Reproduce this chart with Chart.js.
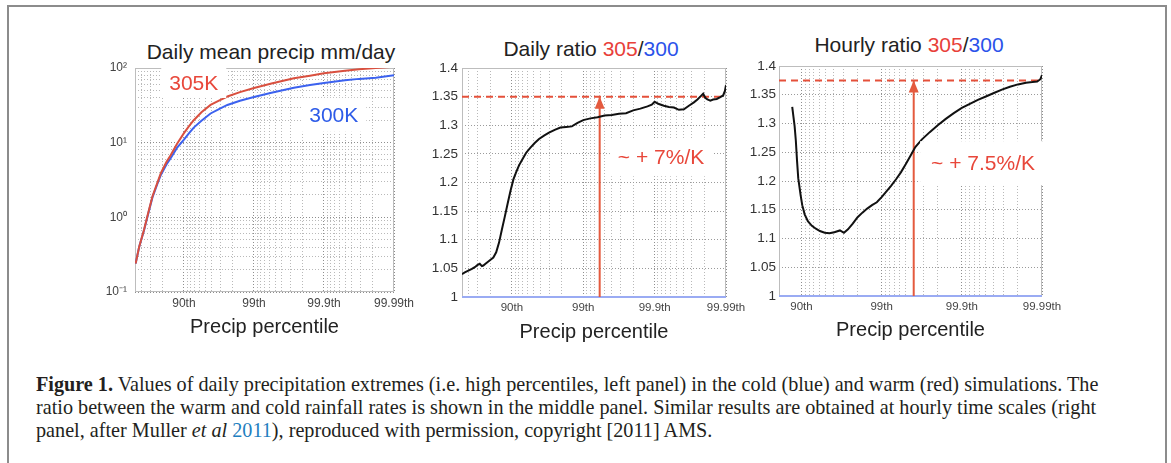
<!DOCTYPE html>
<html><head><meta charset="utf-8">
<script src="https://cdn.jsdelivr.net/npm/chart.js@4.4.0/dist/chart.umd.min.js"></script>
<style>
html,body{margin:0;padding:0;background:#fff;width:1171px;height:463px;overflow:hidden;position:relative;}
#frame{position:absolute;left:7px;top:5px;width:1160px;height:540px;box-sizing:border-box;border:2px solid #8c8c8c;}
canvas{position:absolute;}
.ttl{position:absolute;transform:translate(-50%,-50%);font-family:"Liberation Sans",Arial,sans-serif;font-size:21px;color:#222;white-space:nowrap;}
.r{color:#e8403a;} .b{color:#2b52ea;}
.cap{position:absolute;left:36px;top:373px;font-family:"Liberation Serif","Times New Roman",serif;font-size:20.2px;line-height:23px;color:#231f20;white-space:nowrap;}
.cap a{color:#1f7fc0;text-decoration:none;}
</style></head>
<body>
<div id="frame"></div>
<div class="ttl" style="left:271px;top:52px;">Daily mean precip mm/day</div>
<div class="ttl" style="left:591px;top:49px;">Daily ratio <span class="r">305</span>/<span class="b">300</span></div>
<div class="ttl" style="left:909px;top:45px;">Hourly ratio <span class="r">305</span>/<span class="b">300</span></div>
<canvas id="cLeft" width="360" height="299" style="left:60px;top:40px;"></canvas>
<canvas id="cMid" width="332" height="304" style="left:420px;top:40px;"></canvas>
<canvas id="cRight" width="333" height="302" style="left:735px;top:40px;"></canvas>
<div class="cap"><b>Figure 1.</b> Values of daily precipitation extremes (i.e. high percentiles, left panel) in the cold (blue) and warm (red) simulations. The<br>ratio between the warm and cold rainfall rates is shown in the middle panel. Similar results are obtained at hourly time scales (right<br>panel, after Muller <i>et al</i> <a>2011</a>), reproduced with permission, copyright [2011] AMS.</div>
<script>
// x position on every panel: -log10(1 - percentile/100)
const pctTickLabels = ['90th', '99th', '99.9th', '99.99th'];
const pctTickPos = [1, 2, 3, 4];

// Left panel: daily mean precip (mm/day)
const leftX   = [0.31, 0.36, 0.43, 0.50, 0.55, 0.62, 0.67, 0.75, 0.81, 0.90, 1.00, 1.07, 1.14, 1.25, 1.38, 1.50, 1.62, 1.80, 2.00, 2.25, 2.57, 2.80, 3.00, 3.30, 3.50, 3.74, 4.00];
const warm305 = [0.24, 0.40, 0.68, 1.25, 1.9, 2.9, 3.9, 5.5, 6.8, 9.6, 13.4, 16.5, 20, 25.5, 32, 36.5, 41.5, 47.5, 54, 62, 73, 79, 85, 92, 96, 100, 104];
const cold300 = [0.24, 0.40, 0.67, 1.22, 1.85, 2.8, 3.7, 5.1, 6.2, 8.5, 11.0, 13.3, 15.9, 19.7, 24.6, 28.2, 32, 36.5, 41, 46.5, 54.5, 59, 63, 68.5, 71.5, 74, 80];
const precipTickVals = [0.1, 1, 10, 100];
const precipTickLabels = ['10\u207B\u00B9', '10\u2070', '10\u00B9', '10\u00B2'];

// Middle panel: daily ratio 305/300
const dailyX = [0.30,0.34,0.39,0.44,0.48,0.52,0.55,0.58,0.60,0.63,0.67,0.71,0.74,0.78,0.82,0.86,0.90,0.94,0.98,1.02,1.06,1.10,1.15,1.20,1.26,1.32,1.38,1.45,1.52,1.60,1.68,1.76,1.84,1.92,2.00,2.10,2.20,2.30,2.40,2.50,2.60,2.70,2.80,2.90,2.96,3.00,3.06,3.13,3.20,3.27,3.34,3.41,3.48,3.55,3.60,3.64,3.68,3.71,3.74,3.78,3.82,3.87,3.92,3.96,3.985,4.0];
const dailyRatio = [1.040,1.043,1.046,1.049,1.052,1.056,1.058,1.054,1.055,1.058,1.062,1.066,1.069,1.078,1.095,1.118,1.140,1.163,1.185,1.205,1.218,1.230,1.241,1.252,1.261,1.269,1.276,1.282,1.287,1.292,1.296,1.297,1.298,1.304,1.309,1.312,1.314,1.317,1.318,1.320,1.321,1.326,1.329,1.333,1.336,1.341,1.337,1.334,1.332,1.331,1.327,1.328,1.334,1.340,1.345,1.350,1.355,1.348,1.345,1.343,1.345,1.346,1.349,1.352,1.360,1.370];

// Right panel: hourly ratio 305/300
const hourlyX = [0.885,0.90,0.915,0.93,0.945,0.96,0.975,0.99,1.01,1.04,1.08,1.13,1.18,1.23,1.29,1.35,1.41,1.48,1.53,1.58,1.64,1.70,1.76,1.82,1.88,1.94,2.00,2.06,2.12,2.18,2.24,2.30,2.36,2.42,2.50,2.60,2.70,2.80,2.90,3.00,3.10,3.20,3.30,3.40,3.50,3.60,3.70,3.80,3.88,3.94,3.98,4.00];
const hourlyRatio = [1.329,1.312,1.295,1.27,1.235,1.205,1.19,1.175,1.158,1.142,1.13,1.122,1.117,1.113,1.110,1.109,1.111,1.114,1.110,1.116,1.126,1.137,1.145,1.152,1.158,1.163,1.172,1.182,1.192,1.203,1.215,1.229,1.244,1.259,1.272,1.285,1.297,1.308,1.318,1.327,1.334,1.341,1.347,1.353,1.359,1.364,1.368,1.371,1.372,1.373,1.377,1.384];

const ratioTickVals = [1, 1.05, 1.1, 1.15, 1.2, 1.25, 1.3, 1.35, 1.4];
const ratioTickLabels = ['1', '1.05', '1.1', '1.15', '1.2', '1.25', '1.3', '1.35', '1.4'];

const baseRatio = 1;
const dailyRef = 1.35, dailyArrowX = 2.23;
const hourlyRef = 1.375, hourlyArrowX = 2.40;
const leftXMin = 0.301, midXMin = 0.301, rightXMin = 0.72, xMax = 4;

const leftNotes  = [{text:'305K', x:1.14, y:63, color:'#e8473a', px:8, py:4}, {text:'300K', x:3.14, y:23.6, color:'#2d5be8', px:8, py:6}];
const midNotes   = [{text:'~ + 7%/K', x:3.09, y:1.244, color:'#e8473a', px:8, py:8}];
const rightNotes = [{text:'~ + 7.5%/K', x:3.265, y:1.231, color:'#e8473a', px:11, py:11}];

const FONT = '"Liberation Sans", Arial, sans-serif';
const RED = '#e45a3e', BLACK = '#111';

function xGrid(min) {
  const t = [];
  for (let k = 0; k < 4; k++) for (let m = 9; m >= 1; m--) {
    const v = k + 1 - Math.log10(m);
    if (v >= min - 1e-6 && v <= xMax + 1e-6) t.push({value: v, major: m === 1});
  }
  return t;
}
function logGrid() {
  const t = [];
  for (let k = -1; k <= 1; k++) for (let m = 1; m <= 9; m++) t.push({value: m * Math.pow(10, k), major: m === 1});
  t.push({value: 100, major: true});
  return t;
}
function pctLabel(v) {
  for (let j = 0; j < pctTickPos.length; j++) if (Math.abs(v - pctTickPos[j]) < 1e-6) return pctTickLabels[j];
  return '';
}
function precipLabel(v) {
  for (let j = 0; j < precipTickVals.length; j++) if (Math.abs(v - precipTickVals[j]) < 1e-9 * Math.max(1, v)) return precipTickLabels[j];
  return '';
}
const pts = (xs, ys) => xs.map((x, i) => ({x, y: ys[i]}));
const gridColor = c => (c.tick && c.tick.major) ? '#8e8e8e' : '#b9b9b9';

const framePlugin = {
  id: 'frameBox',
  beforeDatasetsDraw(chart) {
    const {ctx, chartArea: a} = chart;
    ctx.save();
    ctx.strokeStyle = '#bdbdbd'; ctx.lineWidth = 1;
    ctx.strokeRect(Math.round(a.left) + 0.5, Math.round(a.top) + 0.5, Math.round(a.right - a.left) - 1, Math.round(a.bottom - a.top) - 1);
    ctx.restore();
  }
};
function notesPlugin(notes, arrow) {
  return {
    id: 'notes',
    afterDatasetsDraw(chart) {
      const {ctx, scales: {x, y}} = chart;
      ctx.save();
      if (arrow) {
        const px = x.getPixelForValue(arrow.x), py = y.getPixelForValue(arrow.y);
        ctx.fillStyle = RED;
        ctx.beginPath(); ctx.moveTo(px, py); ctx.lineTo(px - 5, py + 12); ctx.lineTo(px + 5, py + 12); ctx.closePath(); ctx.fill();
      }
      ctx.font = '21px ' + FONT;
      ctx.textAlign = 'center'; ctx.textBaseline = 'middle';
      notes.forEach(n => {
        const px = x.getPixelForValue(n.x), py = y.getPixelForValue(n.y);
        const w = ctx.measureText(n.text).width;
        ctx.fillStyle = '#fff';
        ctx.fillRect(px - w / 2 - n.px, py - 11 - n.py, w + 2 * n.px, 22 + 2 * n.py);
        ctx.fillStyle = n.color;
        ctx.fillText(n.text, px, py + 1);
      });
      ctx.restore();
    }
  };
}
function xScale(min, h, tickSize) {
  return {
    type: 'linear', min: min, max: xMax,
    afterBuildTicks: s => { s.ticks = xGrid(min); },
    afterFit: s => { s.height = h; },
    ticks: {autoSkip: false, maxRotation: 0, minRotation: 0, padding: 4, color: '#444', font: {family: FONT, size: tickSize}, callback: v => pctLabel(v)},
    grid: {drawTicks: false, color: gridColor, lineWidth: 1},
    border: {display: false, dash: [1, 2]},
    title: {display: true, text: 'Precip percentile', color: '#222', font: {family: FONT, size: 20, lineHeight: 1.2}, padding: 0}
  };
}
function ratioY(w, pad) {
  return {
    type: 'linear', min: 1, max: 1.4,
    afterBuildTicks: s => { s.ticks = ratioTickVals.map(v => ({value: v, major: true})); },
    afterFit: s => { s.width = w; },
    ticks: {autoSkip: false, padding: pad, color: '#333', font: {family: FONT, size: 13.5}, callback: (v, i) => ratioTickLabels[i]},
    grid: {drawTicks: false, color: '#9a9a9a', lineWidth: 1},
    border: {display: false, dash: [1, 2]}
  };
}
const common = {
  responsive: false, animation: false, devicePixelRatio: 1,
  plugins: {legend: {display: false}, tooltip: {enabled: false}, title: {display: false}},
  elements: {point: {radius: 0}, line: {tension: 0}}
};

new Chart(document.getElementById('cLeft'), {
  type: 'line',
  data: {datasets: [
    {data: pts(leftX, warm305), borderColor: '#d9503f', borderWidth: 2, order: 0},
    {data: pts(leftX, cold300), borderColor: '#3c62ef', borderWidth: 2, order: 1}
  ]},
  options: Object.assign({}, common, {
    layout: {padding: {top: 28, right: 26, left: 0, bottom: 0}},
    scales: {
      x: xScale(leftXMin, 47, 12),
      y: {
        type: 'logarithmic', min: 0.1, max: 100,
        afterBuildTicks: s => { s.ticks = logGrid(); },
        afterFit: s => { s.width = 75; },
        ticks: {autoSkip: false, padding: 8, color: '#444', font: {family: FONT, size: 12}, callback: v => precipLabel(v)},
        grid: {drawTicks: false, color: gridColor, lineWidth: 1},
        border: {display: false, dash: [1, 2]}
      }
    }
  }),
  plugins: [framePlugin, notesPlugin(leftNotes, null)]
});

function ratioChart(id, xs, ys, xmin, ref, arrowX, notes, yw, ypad, xh) {
  return new Chart(document.getElementById(id), {
    type: 'line',
    data: {datasets: [
      {data: pts(xs, ys), borderColor: BLACK, borderWidth: 2, order: 0},
      {data: [{x: arrowX, y: baseRatio}, {x: arrowX, y: ref}], borderColor: RED, borderWidth: 2, order: 1},
      {data: [{x: xmin, y: ref}, {x: xMax, y: ref}], borderColor: '#e5503a', borderWidth: 2, borderDash: [7, 5], order: 2},
      {data: [{x: xmin, y: baseRatio}, {x: xMax, y: baseRatio}], borderColor: '#9aabf3', borderWidth: 2, order: 3, clip: 4}
    ]},
    options: Object.assign({}, common, {
      layout: {padding: {top: id === 'cMid' ? 28 : 26, right: 26, left: 0, bottom: 0}},
      scales: {x: xScale(xmin, xh, 11.5), y: ratioY(yw, ypad)}
    }),
    plugins: [framePlugin, notesPlugin(notes, {x: arrowX, y: ref})]
  });
}
ratioChart('cMid', dailyX, dailyRatio, midXMin, dailyRef, dailyArrowX, midNotes, 42, 4, 47);
ratioChart('cRight', hourlyX, hourlyRatio, rightXMin, hourlyRef, hourlyArrowX, rightNotes, 44, 3, 46);
</script>
</body></html>
